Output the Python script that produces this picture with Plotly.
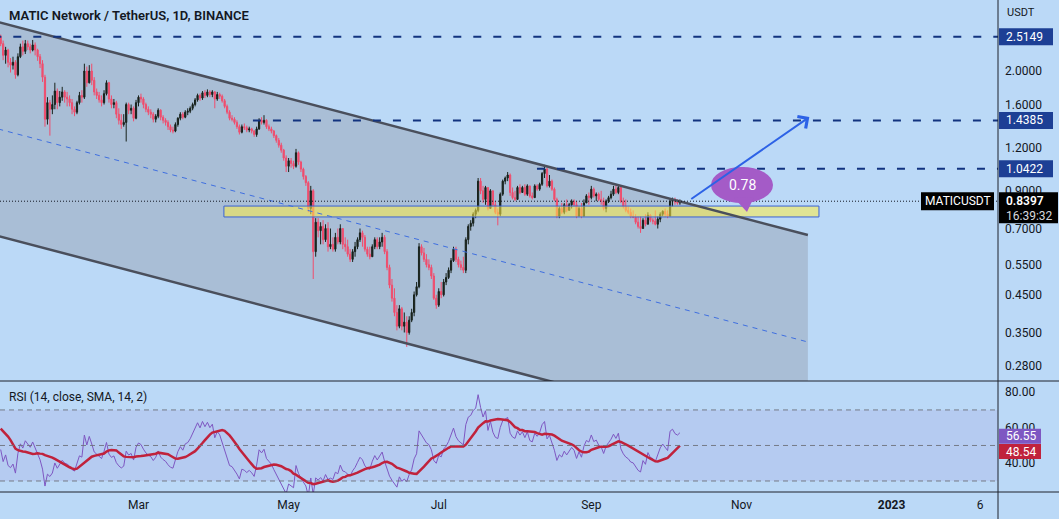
import numpy as np
import pandas as pd
import plotly.graph_objects as go

# ---------------- data ----------------
first_date = "2022-01-04"
close = [
    # Jan
    2.40, 2.22, 2.30, 2.12, 2.08, 2.12, 1.95, 2.20, 2.35, 2.28, 2.40, 2.35, 2.30, 2.38,
    2.30, 2.20, 2.10, 1.92, 1.45, 1.62, 1.55, 1.60, 1.75, 1.62, 1.68, 1.74, 1.68, 1.66,
    # Feb
    1.62, 1.55, 1.52, 1.62, 1.70, 1.68, 2.00, 1.85, 2.00, 1.88, 1.74, 1.70, 1.65, 1.62,
    1.72, 1.85, 1.66, 1.60, 1.62, 1.50, 1.44, 1.40, 1.42, 1.60, 1.54, 1.56, 1.46, 1.62,
    # Mar
    1.68, 1.66, 1.60, 1.55, 1.52, 1.50, 1.45, 1.48, 1.54, 1.47, 1.44, 1.42, 1.38, 1.35,
    1.34, 1.40, 1.46, 1.50, 1.47, 1.52, 1.53, 1.56, 1.60, 1.65, 1.70, 1.67, 1.73, 1.70,
    1.74, 1.71, 1.74,
    # Apr
    1.66, 1.71, 1.69, 1.64, 1.58, 1.52, 1.46, 1.45, 1.42, 1.38, 1.33, 1.38, 1.37, 1.35,
    1.36, 1.34, 1.31, 1.36, 1.44, 1.42, 1.44, 1.38, 1.36, 1.34, 1.30, 1.26, 1.22, 1.18,
    1.12, 1.06,
    # May
    1.10, 1.08, 1.06, 1.16, 1.09, 1.04, 0.99, 0.95, 0.80, 0.90, 0.60, 0.73, 0.69, 0.71,
    0.65, 0.70, 0.62, 0.63, 0.61, 0.66, 0.64, 0.70, 0.63, 0.62, 0.59, 0.57, 0.60, 0.62,
    0.65, 0.68, 0.66,
    # Jun
    0.61, 0.59, 0.58, 0.62, 0.65, 0.62, 0.64, 0.66, 0.60, 0.54, 0.48, 0.44, 0.40, 0.365,
    0.41, 0.365, 0.375, 0.35, 0.38, 0.40, 0.45, 0.475, 0.62, 0.595, 0.57, 0.55, 0.54, 0.51,
    0.44, 0.42,
    # Jul
    0.46, 0.45, 0.49, 0.505, 0.53, 0.565, 0.61, 0.57, 0.55, 0.54, 0.53, 0.65, 0.71, 0.725,
    0.77, 0.79, 0.96, 0.90, 0.85, 0.92, 0.80, 0.90, 0.82, 0.78, 0.77, 0.88, 0.96, 0.98,
    1.00, 0.89, 0.86,
    # Aug
    0.85, 0.92, 0.89, 0.92, 0.88, 0.93, 0.87, 0.86, 0.93, 0.91, 0.94, 1.01, 1.04, 0.93,
    0.96, 0.91, 0.85, 0.76, 0.80, 0.78, 0.82, 0.79, 0.82, 0.84, 0.82, 0.76, 0.80, 0.76,
    0.83, 0.87, 0.86,
    # Sep
    0.91, 0.87, 0.88, 0.85, 0.84, 0.80, 0.84, 0.86, 0.88, 0.91, 0.89, 0.92, 0.84, 0.81,
    0.79, 0.78, 0.76, 0.755, 0.73, 0.71, 0.70, 0.74, 0.72, 0.765, 0.74, 0.735, 0.72, 0.745,
    0.77, 0.785,
    # Oct
    0.77, 0.76, 0.84, 0.85, 0.835, 0.83, 0.8397,
]
high = [
    2.55, 2.45, 2.35, 2.32, 2.18, 2.20, 2.15, 2.25, 2.40, 2.45, 2.46, 2.45, 2.40, 2.46,
    2.42, 2.32, 2.24, 2.15, 1.95, 1.68, 1.65, 1.70, 1.85, 1.78, 1.75, 1.80, 1.76, 1.74,
    1.70, 1.66, 1.58, 1.64, 1.74, 1.76, 2.10, 2.06, 2.08, 2.10, 1.92, 1.78, 1.74, 1.70,
    1.76, 1.88, 1.86, 1.70, 1.66, 1.64, 1.56, 1.50, 1.50, 1.62, 1.62, 1.60, 1.58, 1.65,
    1.70, 1.72, 1.68, 1.62, 1.58, 1.55, 1.52, 1.50, 1.56, 1.55, 1.49, 1.46, 1.44, 1.40,
    1.38, 1.42, 1.47, 1.52, 1.52, 1.54, 1.56, 1.58, 1.62, 1.67, 1.72, 1.72, 1.75, 1.76,
    1.77, 1.76, 1.76,
    1.75, 1.74, 1.73, 1.71, 1.66, 1.60, 1.54, 1.49, 1.47, 1.44, 1.40, 1.40, 1.41, 1.39,
    1.38, 1.37, 1.35, 1.38, 1.46, 1.47, 1.49, 1.45, 1.40, 1.38, 1.35, 1.31, 1.28, 1.24,
    1.19, 1.14,
    1.12, 1.12, 1.10, 1.19, 1.17, 1.10, 1.05, 1.00, 0.96, 0.93, 0.91, 0.75, 0.75, 0.73,
    0.74, 0.72, 0.73, 0.70, 0.66, 0.68, 0.70, 0.72, 0.70, 0.66, 0.65, 0.61, 0.61, 0.64,
    0.66, 0.70, 0.69,
    0.67, 0.62, 0.62, 0.63, 0.66, 0.66, 0.66, 0.68, 0.67, 0.61, 0.55, 0.50, 0.47, 0.42,
    0.42, 0.415, 0.40, 0.39, 0.39, 0.41, 0.46, 0.49, 0.635, 0.63, 0.615, 0.59, 0.57, 0.55,
    0.52, 0.45,
    0.47, 0.49, 0.50, 0.52, 0.54, 0.575, 0.62, 0.62, 0.58, 0.565, 0.58, 0.66, 0.72, 0.74,
    0.78, 0.80, 0.98, 0.98, 0.93, 0.93, 0.92, 0.91, 0.89, 0.84, 0.80, 0.89, 0.97, 0.99,
    1.02, 1.01, 0.92,
    0.90, 0.93, 0.94, 0.93, 0.94, 0.94, 0.93, 0.89, 0.94, 0.94, 0.95, 1.02, 1.07, 1.05,
    1.00, 0.97, 0.92, 0.86, 0.81, 0.83, 0.83, 0.85, 0.83, 0.85, 0.85, 0.84, 0.81, 0.83,
    0.85, 0.88, 0.89,
    0.93, 0.92, 0.89, 0.89, 0.90, 0.86, 0.85, 0.87, 0.90, 0.93, 0.94, 0.93, 0.93, 0.86,
    0.85, 0.81, 0.80, 0.79, 0.77, 0.76, 0.76, 0.75, 0.77, 0.78, 0.77, 0.75, 0.79, 0.76,
    0.78, 0.79,
    0.80, 0.79, 0.85, 0.86, 0.86, 0.85, 0.85,
]
low = [
    2.36, 2.15, 2.10, 2.05, 1.98, 2.02, 1.90, 1.93, 2.18, 2.22, 2.24, 2.30, 2.25, 2.28,
    2.22, 2.14, 2.04, 1.86, 1.38, 1.40, 1.30, 1.50, 1.55, 1.55, 1.58, 1.64, 1.62, 1.58,
    1.58, 1.50, 1.48, 1.50, 1.60, 1.62, 1.66, 1.80, 1.84, 1.82, 1.70, 1.66, 1.62, 1.58,
    1.60, 1.70, 1.62, 1.56, 1.56, 1.46, 1.40, 1.36, 1.38, 1.25, 1.50, 1.50, 1.43, 1.45,
    1.58, 1.62, 1.56, 1.52, 1.49, 1.46, 1.42, 1.42, 1.46, 1.44, 1.41, 1.39, 1.35, 1.33,
    1.32, 1.33, 1.38, 1.44, 1.45, 1.46, 1.49, 1.51, 1.54, 1.58, 1.63, 1.64, 1.65, 1.67,
    1.68, 1.68, 1.68,
    1.56, 1.64, 1.66, 1.62, 1.56, 1.50, 1.44, 1.43, 1.40, 1.36, 1.31, 1.32, 1.35, 1.33,
    1.33, 1.32, 1.29, 1.29, 1.35, 1.40, 1.40, 1.36, 1.34, 1.32, 1.28, 1.24, 1.20, 1.16,
    1.10, 1.02,
    1.02, 1.05, 1.04, 1.05, 1.07, 1.02, 0.97, 0.93, 0.78, 0.77, 0.50, 0.58, 0.66, 0.63,
    0.63, 0.64, 0.60, 0.61, 0.60, 0.60, 0.63, 0.63, 0.61, 0.60, 0.58, 0.56, 0.56, 0.58,
    0.61, 0.64, 0.62,
    0.60, 0.58, 0.57, 0.58, 0.61, 0.61, 0.61, 0.62, 0.59, 0.53, 0.47, 0.43, 0.39, 0.355,
    0.36, 0.355, 0.35, 0.318, 0.345, 0.375, 0.39, 0.445, 0.47, 0.585, 0.56, 0.54, 0.53, 0.50,
    0.435, 0.41,
    0.415, 0.44, 0.445, 0.48, 0.50, 0.52, 0.56, 0.56, 0.54, 0.53, 0.52, 0.52, 0.63, 0.69,
    0.71, 0.75, 0.78, 0.88, 0.83, 0.82, 0.79, 0.80, 0.81, 0.77, 0.715, 0.76, 0.87, 0.94,
    0.96, 0.87, 0.85,
    0.84, 0.85, 0.88, 0.89, 0.87, 0.87, 0.86, 0.85, 0.86, 0.90, 0.90, 0.93, 0.98, 0.92,
    0.92, 0.90, 0.84, 0.75, 0.75, 0.77, 0.77, 0.78, 0.79, 0.80, 0.81, 0.75, 0.76, 0.75,
    0.76, 0.83, 0.82,
    0.85, 0.86, 0.84, 0.84, 0.82, 0.79, 0.78, 0.83, 0.85, 0.87, 0.88, 0.88, 0.83, 0.80,
    0.78, 0.77, 0.75, 0.75, 0.72, 0.70, 0.68, 0.70, 0.71, 0.72, 0.73, 0.72, 0.715, 0.70,
    0.73, 0.76,
    0.755, 0.75, 0.76, 0.81, 0.82, 0.82, 0.82,
]
# closes of the days before the visible window (needed to warm up RSI)
warmup_close = [
    2.26, 2.25, 2.10, 1.95, 2.03, 2.35, 2.45, 2.40, 2.22, 2.10, 2.20, 2.25, 2.00, 2.08,
    2.15, 2.10, 2.05, 2.15, 2.20, 2.28, 2.40, 2.45, 2.55, 2.58, 2.62, 2.70, 2.85, 2.58,
    2.48, 2.56, 2.55, 2.62, 2.60, 2.52,
]

level_values = [2.5149, 1.4385, 1.0422]
level_starts = ["2022-01-01", "2022-04-16 12:00", "2022-08-09 22:00"]
last_price = 0.8397
countdown = "16:39:32"
rsi_last_label = 56.55
rsi_ma_last_label = 48.54
bubble_text = "0.78"

channel_dates = ["2022-01-03", "2022-11-28"]
channel_upper = [2.773, 0.670]
channel_lower = [0.666, 0.161]
channel_mid = [1.359, 0.3285]

zone_dates = ["2022-04-04 17:00", "2022-12-02 12:00"]
zone_prices = [0.756, 0.813]

arrow_dates = ["2022-10-11", "2022-11-28 14:00"]
arrow_prices = [0.8465, 1.472]

price_ticks = [2.0, 1.6, 1.2, 0.9, 0.7, 0.55, 0.45, 0.35, 0.28]
rsi_ticks = [40, 60, 80]
rsi_levels = [70, 50, 30]
time_tickvals = ["2022-03-01", "2022-05-01", "2022-07-01", "2022-09-01",
                 "2022-11-01", "2023-01-01", "2023-02-06"]
time_ticktext = ["Mar", "May", "Jul", "Sep", "Nov", "<b>2023</b>", "6"]

# ---------------- derived series ----------------
n = len(close)
dates = pd.date_range(first_date, periods=n, freq="D")
open_ = [warmup_close[-1]] + close[:-1]

all_close = pd.Series(warmup_close + close, dtype=float)
delta = all_close.diff()
gain = delta.clip(lower=0)
loss = (-delta).clip(lower=0)
avg_gain = gain.ewm(alpha=1 / 14, adjust=False).mean()
avg_loss = loss.ewm(alpha=1 / 14, adjust=False).mean()
rsi_all = 100 - 100 / (1 + avg_gain / avg_loss)
rsi_ma_all = rsi_all.rolling(14).mean()
rsi = rsi_all.iloc[-n:].values
rsi_ma = rsi_ma_all.iloc[-n:].values

# ---------------- style / layout constants ----------------
W, H = 1059, 519
PW, PH = 998, 492          # plot area (px)
PRICE_BOTTOM = 381          # separator between panes (px)
BG = "#bbd9f7"
TXT = "#131722"
FONT = "Roboto, Arial, sans-serif"
UP = "#18221c"
DOWN = "#f04d6d"
x_range = ["2022-01-03 17:20", "2023-02-13 06:00"]
price_range = [np.log10(0.2533), np.log10(3.211)]
rsi_range = [23.8, 86.3]


def pxx(x):
    return x / PW


def pxy(y):
    return 1 - y / PH


fig = go.Figure()

# candles
fig.add_trace(go.Candlestick(
    x=dates, open=open_, high=high, low=low, close=close,
    increasing=dict(line=dict(color=UP, width=1), fillcolor=UP),
    decreasing=dict(line=dict(color=DOWN, width=1), fillcolor=DOWN),
    xaxis="x", yaxis="y", hoverinfo="skip", whiskerwidth=0,
))

# yellow zone
fig.add_trace(go.Scatter(
    x=[zone_dates[0], zone_dates[1], zone_dates[1], zone_dates[0], zone_dates[0]],
    y=[zone_prices[0], zone_prices[0], zone_prices[1], zone_prices[1], zone_prices[0]],
    mode="lines", fill="toself", fillcolor="rgba(255,236,70,0.55)",
    line=dict(color="#3a62d6", width=1), xaxis="x", yaxis="y", hoverinfo="skip"))

# channel lines
fig.add_trace(go.Scatter(x=channel_dates, y=channel_upper, mode="lines",
                         line=dict(color="#4a4f5c", width=2.5), xaxis="x", yaxis="y",
                         hoverinfo="skip"))
fig.add_trace(go.Scatter(x=channel_dates, y=channel_lower, mode="lines",
                         line=dict(color="#4a4f5c", width=2.5), xaxis="x", yaxis="y",
                         hoverinfo="skip"))
fig.add_trace(go.Scatter(x=channel_dates, y=channel_mid, mode="lines",
                         line=dict(color="#3f6fe0", width=1, dash="5px,5px"),
                         xaxis="x", yaxis="y", hoverinfo="skip"))

# horizontal levels
for v, s in zip(level_values, level_starts):
    fig.add_trace(go.Scatter(x=[s, x_range[1]], y=[v, v], mode="lines",
                             line=dict(color="#12337f", width=2, dash="8px,12px"),
                             xaxis="x", yaxis="y", hoverinfo="skip"))

# last price dotted line
fig.add_trace(go.Scatter(x=[x_range[0], x_range[1]], y=[last_price, last_price],
                         mode="lines", line=dict(color="#131722", width=1, dash="1px,2px"),
                         xaxis="x", yaxis="y", hoverinfo="skip"))

# RSI
fig.add_trace(go.Scatter(x=dates, y=rsi, mode="lines",
                         line=dict(color="#7e57c2", width=1), xaxis="x2", yaxis="y2",
                         hoverinfo="skip"))
fig.add_trace(go.Scatter(x=dates, y=rsi_ma, mode="lines",
                         line=dict(color="#c0223c", width=2.5), xaxis="x2", yaxis="y2",
                         hoverinfo="skip"))

shapes = []
# channel fill (below the candles); shape positions on a log axis are data values
cd0 = channel_dates[0].replace(" ", "_")
cd1 = channel_dates[1].replace(" ", "_")
path = (f"M{cd0},{channel_upper[0]} L{cd1},{channel_upper[1]} "
        f"L{cd1},{channel_lower[1]} L{cd0},{channel_lower[0]} Z")
shapes.append(dict(type="path", path=path, xref="x", yref="y", layer="below",
                   fillcolor="rgba(128,128,140,0.30)", line=dict(width=0)))
# RSI band & levels
shapes.append(dict(type="rect", xref="paper", yref="y2", x0=0, x1=1,
                   y0=rsi_levels[2], y1=rsi_levels[0], layer="below",
                   fillcolor="rgba(126,87,194,0.10)", line=dict(width=0)))
for lv in rsi_levels:
    shapes.append(dict(type="line", xref="paper", yref="y2", x0=0, x1=1, y0=lv, y1=lv,
                       line=dict(color="rgba(110,113,124,0.9)", width=1, dash="5px,4px")))
# separators
sep = "#1e222d"
shapes.append(dict(type="line", xref="paper", yref="paper", x0=0, x1=W / PW,
                   y0=pxy(PRICE_BOTTOM), y1=pxy(PRICE_BOTTOM), line=dict(color=sep, width=1)))
shapes.append(dict(type="line", xref="paper", yref="paper", x0=0, x1=W / PW,
                   y0=0, y1=0, line=dict(color=sep, width=1)))
shapes.append(dict(type="line", xref="paper", yref="paper", x0=1, x1=1,
                   y0=1, y1=pxy(H), line=dict(color=sep, width=1)))

annotations = []


def text(x, y, t, size=11, color=TXT, xanchor="left", weight=None):
    f = dict(family=FONT, size=size, color=color)
    if weight:
        f["weight"] = weight
    annotations.append(dict(x=pxx(x), y=pxy(y), xref="paper", yref="paper", text=t,
                            showarrow=False, xanchor=xanchor, yanchor="middle", font=f))


def price_y(v):
    lo, hi = price_range
    return (hi - np.log10(v)) / (hi - lo) * PRICE_BOTTOM


def rsi_y(v):
    lo, hi = rsi_range
    return PRICE_BOTTOM + (hi - v) / (hi - lo) * (PH - PRICE_BOTTOM)


# level labels on price axis
for v in level_values:
    yc = price_y(v)
    shapes.append(dict(type="rect", xref="paper", yref="paper", x0=pxx(999), x1=pxx(1053),
                       y0=pxy(yc + 8.5), y1=pxy(yc - 8.5), fillcolor="#1d3f95",
                       line=dict(width=0)))
    text(1004, yc, f"{v:.4f}", size=12, color="white")

# last price label
yc = price_y(last_price)
shapes.append(dict(type="rect", xref="paper", yref="paper", x0=pxx(999), x1=pxx(1058),
                   y0=pxy(yc + 22), y1=pxy(yc - 9), fillcolor="#000000", line=dict(width=0)))
text(1004, yc, f"{last_price:.4f}", size=12, color="white", weight=600)
text(1004, yc + 14.5, countdown, size=12, color="#d6d8de")
shapes.append(dict(type="rect", xref="paper", yref="paper", x0=pxx(921), x1=pxx(994),
                   y0=pxy(yc + 9), y1=pxy(yc - 9), fillcolor="#000000", line=dict(width=0)))
text(957.5, yc, "MATICUSDT", size=12, color="white", xanchor="center")

# RSI value labels (pushed apart like the reference)
for val, col, yc in [(rsi_last_label, "#7e57c2", rsi_y(rsi_last_label) + 2.5),
                     (rsi_ma_last_label, "#c0223c", rsi_y(rsi_ma_last_label) + 3.5)]:
    shapes.append(dict(type="rect", xref="paper", yref="paper", x0=pxx(999), x1=pxx(1041),
                       y0=pxy(yc + 7.5), y1=pxy(yc - 7.5), fillcolor=col, line=dict(width=0)))
    text(1004, yc, f"{val:.2f}", size=12, color="white")

# speech bubble
bub = "#a45bc7"
shapes.append(dict(type="circle", xref="paper", yref="paper", x0=pxx(711), x1=pxx(773),
                   y0=pxy(203), y1=pxy(167), fillcolor=bub, line=dict(width=0)))
shapes.append(dict(type="path", xref="paper", yref="paper",
                   path=f"M{pxx(734)},{pxy(198)} L{pxx(747)},{pxy(212)} L{pxx(754)},{pxy(197)} Z",
                   fillcolor=bub, line=dict(width=0)))
text(742, 185, bubble_text, size=14, color="white", xanchor="center")

# arrow (annotation positions on a log axis are log10 values)
annotations.append(dict(x=arrow_dates[1], y=np.log10(arrow_prices[1]), xref="x", yref="y",
                        ax=arrow_dates[0], ay=np.log10(arrow_prices[0]), axref="x", ayref="y",
                        text="", showarrow=True, arrowhead=4, arrowsize=1.4, arrowwidth=2,
                        arrowcolor="#2d62e6", standoff=0))

# titles
text(7, 16, "MATIC Network / TetherUS, 1D, BINANCE", size=13, weight=600)
text(1005, 13, "USDT", size=11)
text(7, 397, "RSI (14, close, SMA, 14, 2)", size=12)

fig.update_layout(
    width=W, height=H, margin=dict(l=0, r=W - PW, t=0, b=H - PH, pad=0),
    paper_bgcolor=BG, plot_bgcolor=BG, showlegend=False,
    font=dict(family=FONT, color=TXT, size=11),
    xaxis=dict(domain=[0, 1], anchor="y", type="date", range=x_range, showgrid=False,
               zeroline=False, showticklabels=False, rangeslider=dict(visible=False),
               showline=False, ticks=""),
    yaxis=dict(domain=[pxy(PRICE_BOTTOM), 1], anchor="x", type="log", range=price_range,
               side="right", tickvals=price_ticks, ticktext=[f"{v:.4f}" for v in price_ticks],
               showgrid=False, zeroline=False, ticks="", ticklabelstandoff=6,
               tickfont=dict(family=FONT, size=12, color=TXT)),
    xaxis2=dict(domain=[0, 1], anchor="y2", type="date", range=x_range, matches="x",
                showgrid=False, zeroline=False, tickvals=time_tickvals, ticktext=time_ticktext,
                ticks="", ticklabelstandoff=4, tickfont=dict(family=FONT, size=12, color=TXT)),
    yaxis2=dict(domain=[0, pxy(PRICE_BOTTOM)], anchor="x2", range=rsi_range, side="right",
                tickvals=rsi_ticks, ticktext=[f"{v:.2f}" for v in rsi_ticks], showgrid=False,
                zeroline=False, ticks="", ticklabelstandoff=6,
                tickfont=dict(family=FONT, size=12, color=TXT)),
    shapes=shapes, annotations=annotations,
)

fig.write_html(
    "out.html",
    config={"displayModeBar": False},
    post_script="document.body.style.margin='0';document.body.style.overflow='hidden';",
)
